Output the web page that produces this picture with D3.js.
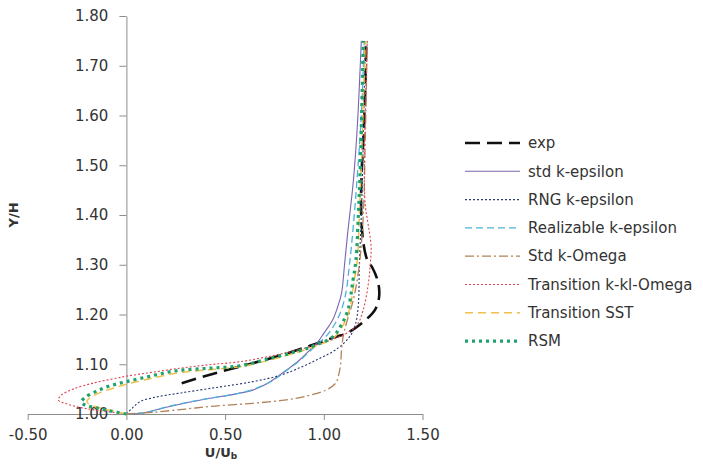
<!DOCTYPE html>
<html>
<head>
<meta charset="utf-8">
<script src="https://cdnjs.cloudflare.com/ajax/libs/d3/7.8.5/d3.min.js"></script>
<style>
  body { margin: 0; background: #fff; }
  text { font-family: "DejaVu Sans", sans-serif; fill: #333; }
</style>
</head>
<body>
<div id="chart"></div>
<script>
const svgWidth = 703;
const svgHeight = 464;

// tick values
const xTicks = [-0.5, 0, 0.5, 1.0, 1.5];
const yTicks = [1.0, 1.1, 1.2, 1.3, 1.4, 1.5, 1.6, 1.7, 1.8];

// series names (legend order)
const seriesNames = ["exp", "std k-epsilon", "RNG k-epsilon", "Realizable k-epsilon",
  "Std k-Omega", "Transition k-kl-Omega", "Transition SST", "RSM"];

// U/Ub and Y/H
const expU = [0.28, 0.45, 0.64, 0.80, 0.93, 1.06, 1.12, 1.22, 1.26, 1.28, 1.275, 1.245, 1.22, 1.20, 1.19, 1.19, 1.20, 1.21, 1.215];
const expY = [1.062, 1.082, 1.102, 1.120, 1.137, 1.155, 1.163, 1.192, 1.21, 1.235, 1.265, 1.295, 1.31, 1.345, 1.40, 1.47, 1.55, 1.65, 1.75];

const stdKeU = [0, 0.08, 0.22, 0.40, 0.55, 0.64, 0.72, 0.81, 0.87, 0.93, 0.97, 1.0, 1.046, 1.07, 1.09, 1.105, 1.12, 1.15, 1.17, 1.19];
const stdKeY = [1.0, 1.002, 1.015, 1.03, 1.04, 1.048, 1.063, 1.088, 1.106, 1.129, 1.145, 1.162, 1.19, 1.215, 1.243, 1.30, 1.36, 1.47, 1.58, 1.75];

const rngU = [0, 0.03, 0.07, 0.15, 0.27, 0.45, 0.64, 0.78, 0.89, 0.98, 1.06, 1.13, 1.16, 1.175, 1.18, 1.19, 1.20, 1.21];
const rngY = [1.0, 1.012, 1.025, 1.034, 1.042, 1.053, 1.065, 1.078, 1.095, 1.112, 1.129, 1.155, 1.18, 1.22, 1.30, 1.40, 1.55, 1.75];

const realU = [0, 0.10, 0.22, 0.40, 0.56, 0.66, 0.74, 0.82, 0.88, 0.94, 0.99, 1.03, 1.08, 1.11, 1.13, 1.15, 1.17, 1.19, 1.205];
const realY = [1.0, 1.003, 1.016, 1.03, 1.041, 1.052, 1.067, 1.09, 1.108, 1.13, 1.148, 1.165, 1.20, 1.24, 1.30, 1.38, 1.48, 1.60, 1.75];

const stdKoU = [0, 0.15, 0.30, 0.45, 0.64, 0.80, 0.90, 1.01, 1.06, 1.075, 1.085, 1.09, 1.10, 1.12, 1.15, 1.18, 1.20, 1.21, 1.22];
const stdKoY = [1.0, 1.004, 1.01, 1.016, 1.0215, 1.028, 1.035, 1.048, 1.062, 1.078, 1.10, 1.13, 1.16, 1.19, 1.23, 1.30, 1.40, 1.55, 1.75];

const transKklU = [0, -0.12, -0.22, -0.30, -0.345, -0.33, -0.27, -0.16, -0.05, 0, 0.10, 0.27, 0.42, 0.574, 0.75, 0.90, 0.994, 1.06, 1.114, 1.17, 1.20, 1.225, 1.235, 1.24, 1.225, 1.21, 1.205, 1.21, 1.22];
const transKklY = [1.0, 1.006, 1.012, 1.02, 1.028, 1.038, 1.05, 1.063, 1.072, 1.076, 1.082, 1.092, 1.099, 1.105, 1.118, 1.132, 1.143, 1.152, 1.162, 1.18, 1.21, 1.26, 1.30, 1.335, 1.38, 1.42, 1.50, 1.60, 1.75];

const sstU = [0, -0.08, -0.15, -0.19, -0.20, -0.18, -0.12, -0.05, 0, 0.12, 0.25, 0.42, 0.574, 0.75, 0.90, 0.97, 1.05, 1.10, 1.13, 1.155, 1.17, 1.18, 1.19, 1.21];
const sstY = [1.0, 1.007, 1.014, 1.02, 1.026, 1.034, 1.045, 1.054, 1.06, 1.071, 1.082, 1.089, 1.095, 1.111, 1.128, 1.138, 1.153, 1.18, 1.21, 1.27, 1.31, 1.40, 1.50, 1.75];

const rsmU = [0, -0.08, -0.16, -0.21, -0.228, -0.21, -0.15, -0.08, 0, 0.12, 0.253, 0.42, 0.574, 0.75, 0.90, 0.962, 1.045, 1.09, 1.122, 1.148, 1.163, 1.175, 1.185, 1.20];
const rsmY = [1.0, 1.006, 1.013, 1.018, 1.024, 1.033, 1.046, 1.057, 1.065, 1.076, 1.087, 1.092, 1.097, 1.114, 1.13, 1.139, 1.155, 1.18, 1.209, 1.269, 1.31, 1.40, 1.50, 1.75];

const seriesU = [expU, stdKeU, rngU, realU, stdKoU, transKklU, sstU, rsmU];
const seriesY = [expY, stdKeY, rngY, realY, stdKoY, transKklY, sstY, rsmY];

// line styles per series
const styles = [
  { color: "#111111", width: 2.6, dash: "15,7" },
  { color: "#7b63b0", width: 1.1, dash: null },
  { color: "#243a73", width: 1.1, dash: "2,2" },
  { color: "#4bb3d6", width: 1.3, dash: "7,4" },
  { color: "#b0835a", width: 1.3, dash: "9,3,2,3" },
  { color: "#e0404f", width: 1.1, dash: "2,2" },
  { color: "#f0c04a", width: 1.5, dash: "8,5" },
  { color: "#1ea36e", width: 3.2, dash: "3,4" }
];

const svg = d3.select("#chart")
  .append("svg")
  .attr("width", svgWidth)
  .attr("height", svgHeight);

const x = d3.scaleLinear().domain([-0.5, 1.5]).range([27.7, 422.5]);
const y = d3.scaleLinear().domain([1.0, 1.8]).range([414, 16]);

// plain hyphen for negatives, like the original
const fmt = d => d3.format(".2f")(d).replace("\u2212", "-");

// axes
const xAxis = svg.append("g")
  .attr("transform", `translate(0, ${y(1.0)})`)
  .call(d3.axisBottom(x).tickValues(xTicks).tickFormat(fmt)
    .tickSize(6).tickSizeOuter(0).tickPadding(9));

const yAxis = svg.append("g")
  .attr("transform", `translate(${x(0)}, 0)`)
  .call(d3.axisLeft(y).tickValues(yTicks).tickFormat(fmt)
    .tickSize(7).tickSizeOuter(0).tickPadding(11));

[xAxis, yAxis].forEach(a => {
  a.selectAll("path, line").attr("stroke", "#8c8c8c");
  a.selectAll("text").style("font-size", "15px").attr("fill", "#333");
});

// curves
const line = d3.line()
  .x(d => x(d[0]))
  .y(d => y(d[1]))
  .curve(d3.curveCatmullRom.alpha(0.5));

seriesNames.forEach((name, i) => {
  const pts = seriesU[i].map((u, j) => [u, seriesY[i][j]]);
  const s = styles[i];
  svg.append("path")
    .datum(pts)
    .attr("fill", "none")
    .attr("stroke", s.color)
    .attr("stroke-width", s.width)
    .attr("stroke-dasharray", s.dash)
    .attr("d", line);
});

// axis titles
svg.append("text")
  .attr("transform", "translate(18, 215) rotate(-90)")
  .attr("text-anchor", "middle")
  .style("font-size", "13px")
  .style("font-weight", "bold")
  .text("Y/H");

const xt = svg.append("text")
  .attr("x", 221)
  .attr("y", 457)
  .attr("text-anchor", "middle")
  .style("font-size", "13px")
  .style("font-weight", "bold");
xt.append("tspan").text("U/U");
xt.append("tspan").attr("dy", 2).style("font-size", "9px").text("b");

// legend
const legend = svg.append("g").attr("transform", "translate(465, 143)");
seriesNames.forEach((name, i) => {
  const s = styles[i];
  const row = legend.append("g").attr("transform", `translate(0, ${i * 28.3})`);
  row.append("line")
    .attr("x1", 0).attr("x2", 55)
    .attr("stroke", s.color)
    .attr("stroke-width", s.width)
    .attr("stroke-dasharray", s.dash);
  row.append("text")
    .attr("x", 63)
    .attr("dy", "0.35em")
    .style("font-size", "15px")
    .text(name);
});
</script>
</body>
</html>
